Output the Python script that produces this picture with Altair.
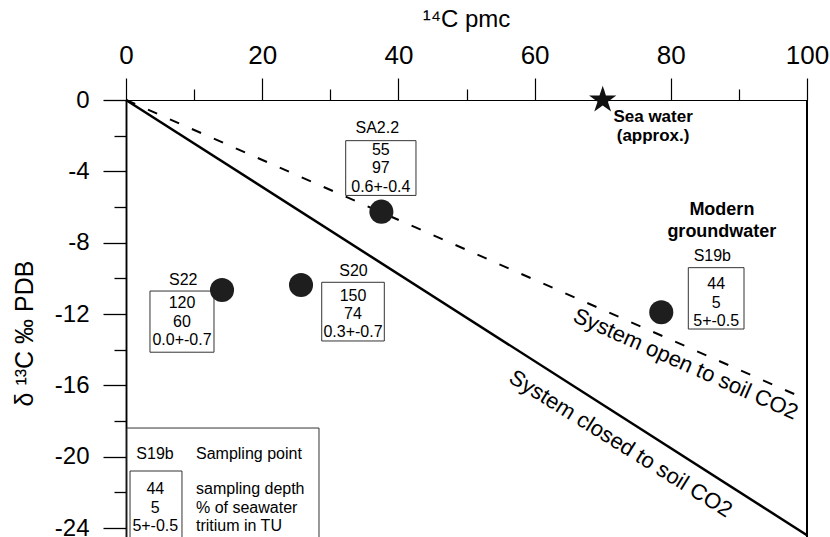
import altair as alt
import pandas as pd

FONT = "Liberation Sans"

# ---------------- data ----------------
x_major = [0, 20, 40, 60, 80, 100]
x_minor = [10, 30, 50, 70, 90]
y_major = [0, -4, -8, -12, -16, -20, -24]
y_minor = [-2, -6, -10, -14, -18, -22]

sample_names = ["SA2.2", "S19b", "S22", "S20"]
sample_pmc = [37.5, 78.6, 14.1, 25.7]
sample_d13c = [-6.26, -11.9, -10.65, -10.37]
sample_depth = ["55", "44", "120", "150"]
sample_seawater = ["97", "5", "60", "74"]
sample_tritium = ["0.6+-0.4", "5+-0.5", "0.0+-0.7", "0.3+-0.7"]

sea_pmc = [70]
sea_d13c = [0]

model_pmc = [0, 100]
closed_d13c = [0, -24.4]
open_d13c = [0, -16.8]

legend_words = ["sampling depth", "% of seawater", "tritium in TU"]

# ---------------- annotation layout (data units) ----------------
name_x = [36.9, 86.1, 8.4, 33.4]
name_y = [-1.55, -8.75, -10.09, -9.57]
box_left = [32.26, 82.57, 3.52, 28.74]
box_right = [42.58, 90.75, 12.92, 37.93]
box_top = [-2.28, -9.40, -10.71, -10.22]
box_bottom = [-5.35, -12.84, -14.14, -13.51]
box_line1_y = [-2.80, -10.33, -11.40, -10.97]

STAR_PATH = ("M0,-1L0.2245,-0.309L0.951,-0.309L0.363,0.118L0.588,0.809L0,0.382"
             "L-0.588,0.809L-0.363,0.118L-0.951,-0.309L-0.2245,-0.309Z")

# ---------------- scales / axes ----------------
xs = alt.Scale(domain=[0, 100], nice=False, zero=False)
ys = alt.Scale(domain=[-24.5, 0], nice=False, zero=False)

common = dict(grid=False, labelFont=FONT, labelFlush=False, labelOverlap=False, labelColor="black",
              tickColor="black", domainColor="black")
hyphen = "datum.value < 0 ? '-' + abs(datum.value) : '' + datum.value"

x_axis = alt.Axis(
    orient="top", values=x_major, tickSize=22, labelFontSize=26, labelPadding=10,
    tickWidth=1.2, domainWidth=1.2,
    title="¹⁴C pmc", titleFont=FONT, titleFontSize=24, titleFontWeight="normal",
    titleColor="black", titleBaseline="middle", titleX=340, titleY=-81, **common,
)
x_axis_minor = alt.Axis(orient="top", values=x_minor, tickSize=11, labels=False, title=None,
                        tickWidth=1.2, domainWidth=1.2, **common)
y_axis = alt.Axis(
    orient="left", values=y_major, tickSize=23, labelFontSize=24, labelPadding=14,
    tickWidth=1.3, domainWidth=1.5, labelExpr=hyphen,
    title="δ ¹³C ‰ PDB", titleFont=FONT, titleFontSize=25, titleFontWeight="normal",
    titleColor="black", titleBaseline="middle", titleAngle=-90, titleX=-102, titleY=233, **common,
)
y_axis_minor = alt.Axis(orient="left", values=y_minor, tickSize=12, labels=False, title=None,
                        tickWidth=1.3, domainWidth=1.5, **common)


def X(field="x", axis=None):
    return alt.X(f"{field}:Q", scale=xs, axis=axis)


def Y(field="y", axis=None):
    return alt.Y(f"{field}:Q", scale=ys, axis=axis)


# ---------------- tables ----------------
closed_df = pd.DataFrame({"x": model_pmc, "y": closed_d13c})
open_df = pd.DataFrame({"x": model_pmc, "y": open_d13c})
samples_df = pd.DataFrame({"x": sample_pmc, "y": sample_d13c, "name": sample_names})
names_df = pd.DataFrame({"x": name_x, "y": name_y, "name": sample_names})
boxes_df = pd.DataFrame({"x": box_left, "x2": box_right, "y": box_top, "y2": box_bottom})

rows = []
for i in range(len(sample_names)):
    cx = (box_left[i] + box_right[i]) / 2
    for k, t in enumerate([sample_depth[i], sample_seawater[i], sample_tritium[i]]):
        rows.append({"x": cx, "y": box_line1_y[i], "k": k, "t": t})
box_text_df = pd.DataFrame(rows)

sea_df = pd.DataFrame({"x": sea_pmc, "y": sea_d13c})

# legend
leg_outer = pd.DataFrame({"x": [0.15], "x2": [28.34], "y": [-18.39], "y2": [-25.5]})
leg_inner = pd.DataFrame({"x": [0.59], "x2": [8.22], "y": [-20.80], "y2": [-25.5]})
leg_vals = pd.DataFrame({"x": [4.3] * 3, "y": [-21.81] * 3, "k": [0, 1, 2],
                         "t": [sample_depth[1], sample_seawater[1], sample_tritium[1]]})
leg_words = pd.DataFrame({"x": [10.28] * 3, "y": [-21.81] * 3, "k": [0, 1, 2], "t": legend_words})
leg_head = pd.DataFrame({"x": [4.26, 10.28], "y": [-19.85, -19.85],
                         "t": [sample_names[1], "Sampling point"], "a": ["c", "l"]})

# ---------------- layers ----------------
right_edge = alt.Chart(pd.DataFrame({"x": [100]})).mark_rule(color="black", strokeWidth=2).encode(x=X())

closed_line = alt.Chart(closed_df).mark_line(color="black", strokeWidth=2.5).encode(
    x=X(axis=x_axis), y=Y(axis=y_axis), order="x:Q")
open_line = alt.Chart(open_df).mark_line(color="black", strokeWidth=2, strokeDash=[10, 14]).encode(
    x=X(axis=x_axis_minor), y=Y(axis=y_axis_minor), order="x:Q")

open_label = alt.Chart(pd.DataFrame({"x": [82.19], "y": [-14.80], "t": ["System open to soil CO2"]})).mark_text(
    font=FONT, fontSize=22, angle=24, align="center", baseline="middle", color="black").encode(
    x=X(), y=Y(), text="t:N")
closed_label = alt.Chart(pd.DataFrame({"x": [72.64], "y": [-19.27], "t": ["System closed to soil CO2"]})).mark_text(
    font=FONT, fontSize=22, angle=32, align="center", baseline="middle", color="black").encode(
    x=X(), y=Y(), text="t:N")

boxes = alt.Chart(boxes_df).mark_rect(fill="white", stroke="#333", strokeWidth=1).encode(
    x=X(), x2="x2:Q", y=Y(), y2="y2:Q")

box_texts = []
for k in range(3):
    box_texts.append(
        alt.Chart(box_text_df[box_text_df.k == k]).mark_text(
            font=FONT, fontSize=16, align="center", baseline="middle", color="black", dy=18.3 * k).encode(
            x=X(), y=Y(), text="t:N"))

names = alt.Chart(names_df).mark_text(font=FONT, fontSize=16, align="center", baseline="middle",
                                      color="black").encode(x=X(), y=Y(), text="name:N")

points = alt.Chart(samples_df).mark_circle(size=580, color="#1e1e1e", opacity=1).encode(x=X(), y=Y())

star = alt.Chart(sea_df).mark_point(shape=STAR_PATH, filled=True, size=820, color="#111",
                                    opacity=1).encode(x=X(), y=Y())

sea_text = []
for k, t in enumerate(["Sea water", "(approx.)"]):
    sea_text.append(alt.Chart(pd.DataFrame({"x": [77.4], "y": [-0.95], "t": [t]})).mark_text(
        font=FONT, fontSize=17, fontWeight="bold", align="center", baseline="middle", color="black",
        dy=19 * k).encode(x=X(), y=Y(), text="t:N"))

modern_text = []
for k, t in enumerate(["Modern", "groundwater"]):
    modern_text.append(alt.Chart(pd.DataFrame({"x": [87.5], "y": [-6.17], "t": [t]})).mark_text(
        font=FONT, fontSize=18, fontWeight="bold", align="center", baseline="middle", color="black",
        dy=22 * k).encode(x=X(), y=Y(), text="t:N"))

legend_outer = alt.Chart(leg_outer).mark_rect(fill="white", stroke="#333", strokeWidth=1, clip=True).encode(
    x=X(), x2="x2:Q", y=Y(), y2="y2:Q")
legend_inner = alt.Chart(leg_inner).mark_rect(fill="white", stroke="#333", strokeWidth=1, clip=True).encode(
    x=X(), x2="x2:Q", y=Y(), y2="y2:Q")

legend_texts = []
for k in range(3):
    legend_texts.append(alt.Chart(leg_vals[leg_vals.k == k]).mark_text(
        font=FONT, fontSize=16, align="center", baseline="middle", color="black", dy=18.6 * k).encode(
        x=X(), y=Y(), text="t:N"))
    legend_texts.append(alt.Chart(leg_words[leg_words.k == k]).mark_text(
        font=FONT, fontSize=16, align="left", baseline="middle", color="black", dy=18.6 * k).encode(
        x=X(), y=Y(), text="t:N"))
legend_texts.append(alt.Chart(leg_head[leg_head.a == "c"]).mark_text(
    font=FONT, fontSize=16, align="center", baseline="middle", color="black").encode(x=X(), y=Y(), text="t:N"))
legend_texts.append(alt.Chart(leg_head[leg_head.a == "l"]).mark_text(
    font=FONT, fontSize=16, align="left", baseline="middle", color="black").encode(x=X(), y=Y(), text="t:N"))

chart = alt.layer(
    closed_line, open_line, right_edge, open_label, closed_label,
    boxes, *box_texts, names, points, star, *sea_text, *modern_text,
    legend_outer, legend_inner, *legend_texts,
).resolve_axis(x="independent", y="independent").properties(
    width=681, height=437,
    autosize=alt.AutoSizeParams(type="none"),
    padding={"left": 126, "top": 100, "right": 23, "bottom": 0},
).configure_view(stroke=None)

chart.save("out.html", embed_options={"renderer": "svg", "actions": False})
